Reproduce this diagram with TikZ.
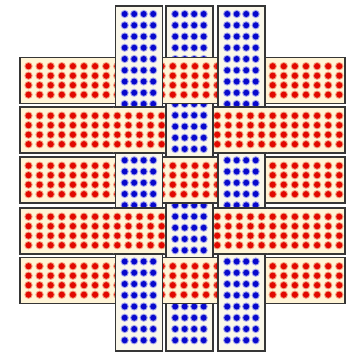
\documentclass[tikz,border=0pt]{standalone}
\definecolor{cream}{HTML}{FFF4D6}
\definecolor{bcream}{HTML}{FAF7EA}
\definecolor{dotred}{HTML}{E20800}
\definecolor{halored}{HTML}{F4A080}
\definecolor{dotblue}{HTML}{0808CC}
\definecolor{haloblue}{HTML}{A0A0EC}
\definecolor{edgecol}{HTML}{363636}
\tikzset{edgeline/.style={draw=edgecol, line width=1.4pt}}
\newcommand\redrow[1]{%
  \fill[cream] (20,#1) rectangle (345,#1+46);
  \foreach \k in {0,...,28}{\foreach \j in {0,...,3}{%
    \fill[halored] (28.5+11.1*\k, #1+8.7+9.5*\j) circle (4.2pt);
    \fill[dotred] (28.5+11.1*\k, #1+8.7+9.5*\j) circle (3.1pt);}}
  \draw[edgeline] (20,#1) rectangle (345,#1+46);
}
\newcommand\bluecol[1]{%
  \fill[bcream] (#1,6) rectangle (#1+47,351);
  \foreach \k in {0,...,29}{\foreach \j in {0,...,3}{%
    \fill[haloblue] (#1+9.2+9.5*\j, 14+11.25*\k) circle (4.1pt);
    \fill[dotblue] (#1+9.2+9.5*\j, 14+11.25*\k) circle (3.0pt);}}
  \draw[edgeline] (#1,6) rectangle (#1+47,351);
}
\newcommand\redover[2]{%
  \begin{scope}
    \clip (#1-2,#2-3) rectangle (#1+49,#2+49);
    \redrow{#2}
  \end{scope}
}
\begin{document}
\begin{tikzpicture}[x=1pt,y=-1pt]
\useasboundingbox (0,0) rectangle (346,354);
\fill[white] (0,0) rectangle (346,354);
% red rows
\foreach \t in {57.5,107,157,208,257.5}{\redrow{\t}}
% blue columns
\foreach \c in {115.5,166,218}{\bluecol{\c}}
% red on top at crossings
\redover{166}{57.5}
\redover{166}{157}
\redover{166}{257.5}
\redover{115.5}{107}
\redover{218}{107}
\redover{115.5}{208}
\redover{218}{208}
\end{tikzpicture}
\end{document}
